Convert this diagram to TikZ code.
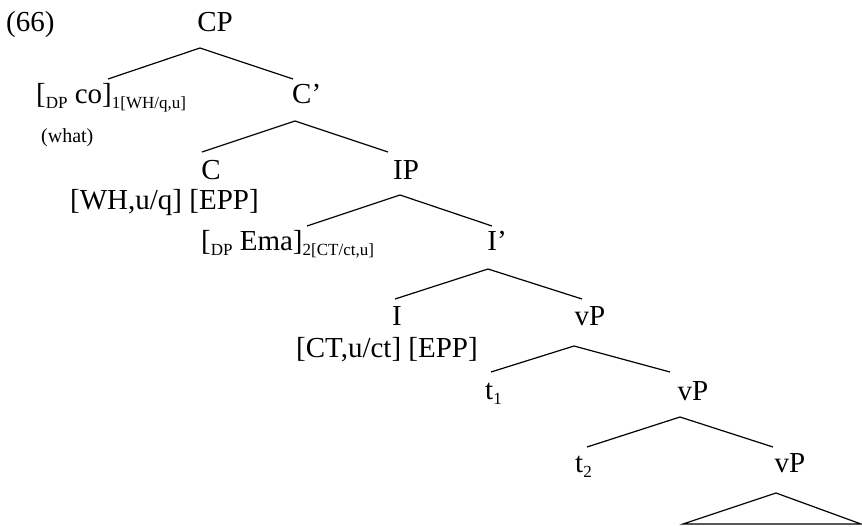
\documentclass[tikz,border=0pt]{standalone}
\usepackage{fontspec}
\setmainfont{Liberation Serif}
% lowered small labels (category and index subscripts)
\newcommand\lowsub[1]{\raisebox{-5pt}{\fontsize{17}{17}\selectfont #1}}
\begin{document}
\begin{tikzpicture}[x=1pt,y=-1pt,
  lbl/.style={inner sep=0pt,anchor=base,font=\fontsize{29}{29}\selectfont},
  lblw/.style={lbl,anchor=base west},
  small/.style={inner sep=0pt,anchor=base west,font=\fontsize{20}{20}\selectfont},
  branch/.style={line width=1.2pt}]
\useasboundingbox (0,0) rectangle (862,527);

% labels
\node[lblw] (ex) at (6,32) {(66)};
\node[lbl] (CP) at (215,32) {CP};
\node[lblw] (spec1) at (36,103) {[\lowsub{DP} co]\lowsub{1[WH/q,u]}};
\node[lblw] (Cbar) at (292,103) {C’};
\node[small] (gloss) at (41,142) {(what)};
\node[lbl] (C) at (211,179) {C};
\node[lbl] (IP) at (406,179) {IP};
\node[lblw] (Cfeat) at (70,209) {[WH,u/q] [EPP]};
\node[lblw] (spec2) at (201,250) {[\lowsub{DP} Ema]\lowsub{2[CT/ct,u]}};
\node[lbl] (Ibar) at (497,250) {I’};
\node[lbl] (I) at (397,325) {I};
\node[lbl] (vP1) at (590,325) {vP};
\node[lblw] (Ifeat) at (296,357) {[CT,u/ct] [EPP]};
\node[lblw] (t1) at (485,399) {t\lowsub{1}};
\node[lbl] (vP2) at (693,400) {vP};
\node[lblw] (t2) at (575,472) {t\lowsub{2}};
\node[lbl] (vP3) at (790,472) {vP};

% branch points
\coordinate (a1) at (200,48);  \coordinate (l1) at (108,79);  \coordinate (r1) at (293,79);
\coordinate (a2) at (295,121); \coordinate (l2) at (202,152); \coordinate (r2) at (388,152);
\coordinate (a3) at (400,195); \coordinate (l3) at (307,226); \coordinate (r3) at (492,226);
\coordinate (a4) at (488,269); \coordinate (l4) at (395,299); \coordinate (r4) at (582,299);
\coordinate (a5) at (574,346); \coordinate (l5) at (491,372); \coordinate (r5) at (670,372);
\coordinate (a6) at (680,417); \coordinate (l6) at (587,447); \coordinate (r6) at (773,447);
\coordinate (a7) at (776,493); \coordinate (l7) at (683,524); \coordinate (r7) at (861,524);

\draw[branch] (l1) -- (a1) -- (r1);
\draw[branch] (l2) -- (a2) -- (r2);
\draw[branch] (l3) -- (a3) -- (r3);
\draw[branch] (l4) -- (a4) -- (r4);
\draw[branch] (l5) -- (a5) -- (r5);
\draw[branch] (l6) -- (a6) -- (r6);
\draw[branch] (l7) -- (a7) -- (r7) -- cycle;
\end{tikzpicture}
\end{document}
